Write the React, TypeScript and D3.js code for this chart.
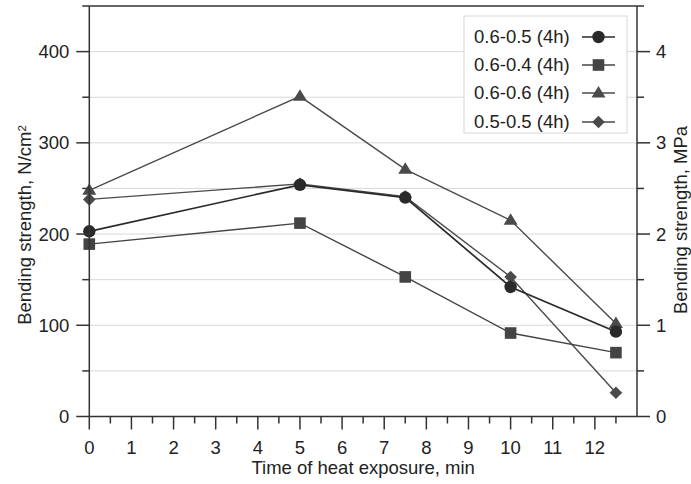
import React from "react";
import * as d3 from "d3";

const times = [0, 5, 7.5, 10, 12.5];
const seriesNames = ["0.6-0.5 (4h)", "0.6-0.4 (4h)", "0.6-0.6 (4h)", "0.5-0.5 (4h)"];
const s05_05 = [203, 254, 240, 142, 93];
const s06_04 = [189, 212, 153, 91.5, 70];
const s06_06 = [248, 351, 271, 215, 102];
const s05_05b = [238, 255, 241, 153, 26];
const xTicks = [0, 1, 2, 3, 4, 5, 6, 7, 8, 9, 10, 11, 12];
const yTicks = [0, 100, 200, 300, 400];
const yRightTicks = [0, 1, 2, 3, 4];

const W = 691, H = 484;
const m = { left: 89.3, right: 637, top: 6, bottom: 416.5 };
const FONT = "Arial, 'Liberation Sans', sans-serif";
const FS = 18.5;

const series = [
  { name: seriesNames[0], values: s05_05, shape: "circle", color: "#2a2a2a", lw: 1.7 },
  { name: seriesNames[1], values: s06_04, shape: "square", color: "#444", lw: 1.4 },
  { name: seriesNames[2], values: s06_06, shape: "triangle", color: "#4a4a4a", lw: 1.4 },
  { name: seriesNames[3], values: s05_05b, shape: "diamond", color: "#4a4a4a", lw: 1.4 },
];

function Marker({ shape, x, y, color }: { shape: string; x: number; y: number; color: string }) {
  if (shape === "circle") return <circle cx={x} cy={y} r={6.2} fill={color} />;
  if (shape === "square") return <rect x={x - 5.8} y={y - 5.8} width={11.6} height={11.6} fill={color} />;
  if (shape === "triangle")
    return <path d={`M${x},${y - 7} L${x + 7},${y + 4.5} L${x - 7},${y + 4.5} Z`} fill={color} />;
  return <path d={`M${x},${y - 6.3} L${x + 6.3},${y} L${x},${y + 6.3} L${x - 6.3},${y} Z`} fill={color} />;
}

export default function App() {
  const x = d3.scaleLinear().domain([0, 13]).range([m.left, m.right]);
  const y = d3.scaleLinear().domain([0, 450]).range([m.bottom, m.top]);
  const yR = d3.scaleLinear().domain([0, 4.5]).range([m.bottom, m.top]);
  const line = d3.line<number>().x((_, i) => x(times[i])).y((d) => y(d));
  const grid = d3.range(50, 450, 50);
  const minorY = d3.range(50, 451, 100);
  const minorYR = d3.range(0.5, 4.51, 1);
  const minorX = d3.range(0.5, 12.6, 1);
  const axisColor = "#333";
  const drawOrder = [3, 2, 1, 0];
  const legendRows = [37, 65, 93, 122];
  return (
    <svg width={W} height={H} style={{ position: "absolute", left: 0, top: 0, background: "#fff" }} fontFamily={FONT}>
      {grid.map((g) => (
        <line key={g} x1={m.left} x2={m.right} y1={y(g)} y2={y(g)} stroke="#d8d8d8" strokeWidth={1} />
      ))}
      {/* legend box */}
      <rect x={464} y={16} width={163} height={117} fill="#fff" stroke="#d6d6d6" strokeWidth={1} />
      {series.map((s, i) => (
        <g key={s.name}>
          <text x={474} y={legendRows[i]} dy="0.35em" fontSize={FS} fill="#222">{s.name}</text>
          <line x1={582} x2={615} y1={legendRows[i]} y2={legendRows[i]} stroke={s.color} strokeWidth={s.lw} />
          <Marker shape={s.shape} x={598.5} y={legendRows[i]} color={s.color} />
        </g>
      ))}
      {drawOrder.map((i) => {
        const s = series[i];
        return (
          <g key={s.name}>
            <path d={line(s.values) || ""} fill="none" stroke={s.color} strokeWidth={s.lw} />
            {s.values.map((v, j) => (
              <Marker key={j} shape={s.shape} x={x(times[j])} y={y(v)} color={s.color} />
            ))}
          </g>
        );
      })}
      {/* frame */}
      <line x1={m.left} x2={m.right} y1={m.top} y2={m.top} stroke={axisColor} strokeWidth={1.5} />
      <line x1={m.left} x2={m.right} y1={m.bottom} y2={m.bottom} stroke={axisColor} strokeWidth={1.5} />
      <line x1={m.left} x2={m.left} y1={m.top} y2={m.bottom} stroke={axisColor} strokeWidth={1.5} />
      <line x1={m.right} x2={m.right} y1={m.top} y2={m.bottom} stroke={axisColor} strokeWidth={1.5} />
      {/* left axis */}
      {yTicks.map((t) => (
        <g key={t}>
          <line x1={m.left - 13} x2={m.left} y1={y(t)} y2={y(t)} stroke={axisColor} strokeWidth={1.5} />
          <text x={m.left - 20} y={y(t)} dy="0.35em" textAnchor="end" fontSize={FS} fill="#222">{t}</text>
        </g>
      ))}
      {minorY.map((t) => (
        <line key={t} x1={m.left - 7} x2={m.left} y1={y(t)} y2={y(t)} stroke={axisColor} strokeWidth={1.5} />
      ))}
      {/* right axis */}
      {yRightTicks.map((t) => (
        <g key={t}>
          <line x1={m.right} x2={m.right + 13} y1={yR(t)} y2={yR(t)} stroke={axisColor} strokeWidth={1.5} />
          <text x={m.right + 19} y={yR(t)} dy="0.35em" fontSize={FS} fill="#222">{t}</text>
        </g>
      ))}
      {minorYR.map((t) => (
        <line key={t} x1={m.right} x2={m.right + 7} y1={yR(t)} y2={yR(t)} stroke={axisColor} strokeWidth={1.5} />
      ))}
      {/* x axis */}
      {xTicks.map((t) => (
        <g key={t}>
          <line x1={x(t)} x2={x(t)} y1={m.bottom} y2={m.bottom + 13} stroke={axisColor} strokeWidth={1.5} />
          <text x={x(t)} y={m.bottom + 31} dy="0.35em" textAnchor="middle" fontSize={FS} fill="#222">{t}</text>
        </g>
      ))}
      {minorX.map((t) => (
        <line key={t} x1={x(t)} x2={x(t)} y1={m.bottom} y2={m.bottom + 7} stroke={axisColor} strokeWidth={1.5} />
      ))}
      <text x={(m.left + m.right) / 2} y={468} dy="0.35em" textAnchor="middle" fontSize={FS} fill="#222">
        Time of heat exposure, min
      </text>
      <text transform={`translate(25,225) rotate(-90)`} textAnchor="middle" dy="0.35em" fontSize={FS} fill="#222">
        Bending strength, N/cm<tspan dy="-0.45em" fontSize={11.5}>2</tspan>
      </text>
      <text transform={`translate(681,220) rotate(-90)`} textAnchor="middle" dy="0.35em" fontSize={FS} fill="#222">
        Bending strength, MPa
      </text>
    </svg>
  );
}
